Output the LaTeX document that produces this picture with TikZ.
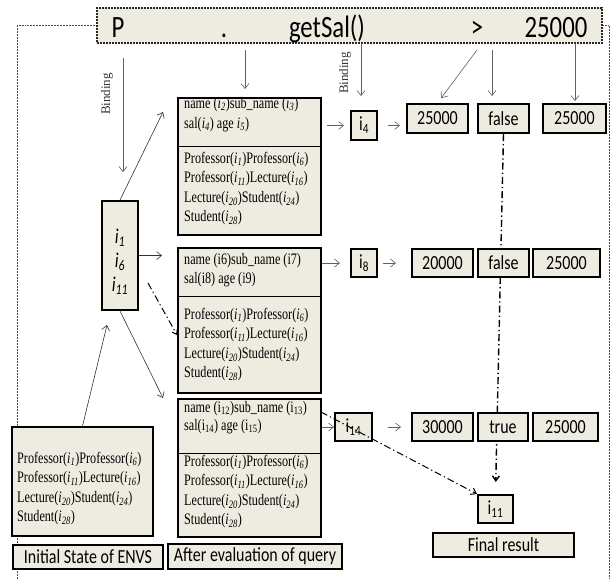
\documentclass[tikz,border=0pt]{standalone}
\usepackage{fontspec}
\newfontfamily\cs[FakeStretch=0.8]{Carlito}
\newfontfamily\ts[FakeStretch=0.76]{Liberation Serif}
\newfontfamily\bs{Liberation Serif}
\usetikzlibrary{arrows.meta,backgrounds,calc}
\definecolor{tanfill}{HTML}{EEECE1}
\newcommand\ii[1]{\textit{i}\textsubscript{\textit{#1}}}
\newcommand\iu[1]{i\textsubscript{#1}}
\tikzset{
  vb/.style={draw=black, line width=2pt, fill=tanfill, inner sep=0pt, font=\cs\fontsize{20}{22}\selectfont},
  bigb/.style={draw=black, line width=2pt, fill=tanfill, inner sep=0pt},
  envt/.style={anchor=base west, inner sep=0pt, font=\ts\fontsize{16}{18}\selectfont},
  qt/.style={anchor=base, inner sep=0pt, font=\cs\fontsize{31}{32}\selectfont},
  it/.style={inner sep=0pt, font=\cs\itshape\fontsize{21}{22}\selectfont},
  garr/.style={draw=gray!75!black, line width=0.6pt, -{Straight Barb[length=5pt,width=8pt]}},
  karr/.style={draw=black!80, line width=0.6pt, -{Straight Barb[length=5pt,width=8pt]}},
  dd/.style={dash pattern=on 7pt off 3pt on 1.3pt off 3pt, line width=1.4pt},
  framel/.style={densely dotted, draw=gray!60!black, line width=0.5pt},
  bind/.style={rotate=90, font=\bs\fontsize{13}{13}\selectfont, inner sep=0pt, text=black!80},
}
\newcommand{\envlines}[3]{%
  \node[envt] (#1a) at (#2,#3) {Professor(\ii{1})Professor(\ii{6})};
  \node[envt] (#1b) at (#2,#3+19.5) {Professor(\ii{11})Lecture(\ii{16})};
  \node[envt] (#1c) at (#2,#3+39.5) {Lecture(\ii{20})Student(\ii{24})};
  \node[envt] (#1d) at (#2,#3+58.5) {Student(\ii{28})};
}
\begin{document}
\begin{tikzpicture}[x=1pt,y=-1pt]
\useasboundingbox (0,0) rectangle (611,579);

% top query box
\node[draw=black!85, line width=2pt, densely dotted, fill=tanfill, minimum width=505pt, minimum height=35pt, inner sep=0pt] (q) at (349.5,25.5) {};
\node[qt] (qP) at (118,37) {P};
\node[qt] (qdot) at (224,37) {.};
\node[qt] (qget) at (327,37) {getSal()};
\node[qt] (qgt) at (477,37) {>};
\node[qt] (qnum) at (556,37) {25000};

% big environment boxes
\node[bigb, minimum width=143pt, minimum height=137pt] (b1) at (249.5,166.5) {};
\node[bigb, minimum width=143pt, minimum height=145pt] (b2) at (249.5,320.5) {};
\node[bigb, minimum width=143pt, minimum height=138pt] (b3) at (249.5,468) {};
\node[bigb, minimum width=141pt, minimum height=109pt] (init) at (82.5,481.5) {};
\draw[line width=0.8pt] ($(b1.north west)+(0,49)$) -- ($(b1.north east)+(0,49)$);
\draw[line width=0.8pt] ($(b2.north west)+(0,49)$) -- ($(b2.north east)+(0,49)$);
\draw[line width=0.8pt] ($(b3.north west)+(0,55)$) -- ($(b3.north east)+(0,55)$);

\node[envt] (b1n) at (184,108) {name (\ii{2})sub\_name (\ii{3})};
\node[envt] (b1s) at (184,128) {sal(\ii{4}) age \ii{5})};
\envlines{b1e}{184}{163}
\node[envt] (b2n) at (184,264) {name (i6)sub\_name (i7)};
\node[envt] (b2s) at (184,283) {sal(i8) age (i9)};
\envlines{b2e}{184}{319}
\node[envt] (b3n) at (184,412) {name (\iu{12})sub\_name (\iu{13})};
\node[envt] (b3s) at (184,430) {sal(\iu{14}) age (\iu{15})};
\envlines{b3e}{184}{466}
\envlines{ie}{17}{463}

% i-box
\node[bigb, minimum width=36pt, minimum height=109pt] (ib) at (120,255.5) {};
\node[it] (ib1) at (120,238) {i\textsubscript{1}};
\node[it] (ib6) at (120,262) {i\textsubscript{6}};
\node[it] (ib11) at (120,286) {i\textsubscript{11}};

% row 1
\node[vb, minimum width=26pt, minimum height=29pt] (i4) at (364,125.5) {i\textsubscript{4}};
\node[vb, minimum width=61pt, minimum height=29pt] (ra1) at (437.5,118.5) {25000};
\node[vb, minimum width=51pt, minimum height=29pt] (rb1) at (503.5,118.5) {false};
\node[vb, minimum width=63pt, minimum height=29pt] (rc1) at (574.5,118.5) {25000};
% row 2
\node[vb, minimum width=26pt, minimum height=28pt] (i8) at (364,263) {i\textsubscript{8}};
\node[vb, minimum width=61pt, minimum height=28pt] (ra2) at (442.5,263) {20000};
\node[vb, minimum width=51pt, minimum height=28pt] (rb2) at (503.5,263) {false};
\node[vb, minimum width=67pt, minimum height=28pt] (rc2) at (566.5,263) {25000};
% row 3
\node[vb, minimum width=37pt, minimum height=28pt] (i14) at (353.5,427) {i\textsubscript{14}};
\node[vb, minimum width=61pt, minimum height=28pt] (ra3) at (442.5,427) {30000};
\node[vb, minimum width=50pt, minimum height=28pt] (rb3) at (503,427) {true};
\node[vb, minimum width=65pt, minimum height=28pt] (rc3) at (565.5,427) {25000};
% result
\node[vb, minimum width=35pt, minimum height=28pt] (i11) at (495.5,509) {i\textsubscript{11}};
\node[vb, minimum width=141pt, minimum height=24pt] (fin) at (503.5,545) {Final result};
\node[vb, minimum width=150pt, minimum height=24pt] (linit) at (88,556.5) {Initial State of ENVS};
\node[vb, minimum width=174pt, minimum height=25pt] (lafter) at (255,556.5) {After evaluation of query};

% binding labels
\node[bind] (bindL) at (107,94) {Binding};
\node[bind] (bindR) at (345,73) {Binding};

% free-end coordinates
\coordinate (bA) at (123,58);
\coordinate (bB) at (123,172);
\coordinate (gs) at (245,50);
\coordinate (gi) at (361,43);
\coordinate (ggt) at (477,50);
\coordinate (gf) at (492,50);
\coordinate (gn) at (575,43);
\coordinate (t1) at (163,112);
\coordinate (t3) at (163,398);
\coordinate (ddS) at (148,283);
\coordinate (ddE) at (177,335);
\coordinate (iniT) at (107,325);
\coordinate (b3dd) at (321,412);

\begin{pgfonlayer}{background}
\draw[framel] (q.west) -| (17,579);
\draw[framel] (q.east) -| (609,579);
\draw[dd, -{Straight Barb[length=5pt,width=7pt]}, shorten >=12pt] (rb1.south) -- (i11.north);
\end{pgfonlayer}

% arrows from query
\draw[garr] (bA) -- (bB);
\draw[garr, shorten >=8pt] (gs) -- (gs |- b1.north);
\draw[garr, shorten >=14pt] (gi) -- (gi |- i4.north);
\draw[garr, shorten >=6pt] (ggt) -- (ra1.north);
\draw[garr, shorten >=7pt] (gf) -- (gf |- rb1.north);
\draw[garr, shorten >=2pt] (gn) -- (gn |- rc1.north);

% row arrows
\draw[garr, shorten <=5pt, shorten >=6pt] (b1.east |- i4) -- (i4.west);
\draw[garr, shorten <=10pt, shorten >=6pt] (i4.east) -- (i4.east -| ra1.west);
\draw[garr, shorten >=10pt] (b2.east |- i8) -- (i8.west);
\draw[garr, shorten <=5pt, shorten >=15pt] (i8.east) -- (ra2.west);
\draw[garr] (b3.east |- i14) -- (i14.west);
\draw[garr, shorten <=15pt, shorten >=10pt] (i14.east) -- (ra3.west);

% left arrows
\draw[karr] (ib.north) -- (t1);
\draw[karr, shorten >=15pt] (ib.east) -- (b2.west |- ib.east);
\draw[karr] (ib.south) -- (t3);
\draw[karr] (init.north) -- (iniT);
\draw[dd, line width=1pt, -{Straight Barb[length=4pt,width=6pt]}] (ddS) -- (ddE);
\draw[dd, line width=1pt, -{Straight Barb[length=5pt,width=7pt]}] (b3dd) -- (i11.north west);
\end{tikzpicture}
\end{document}
